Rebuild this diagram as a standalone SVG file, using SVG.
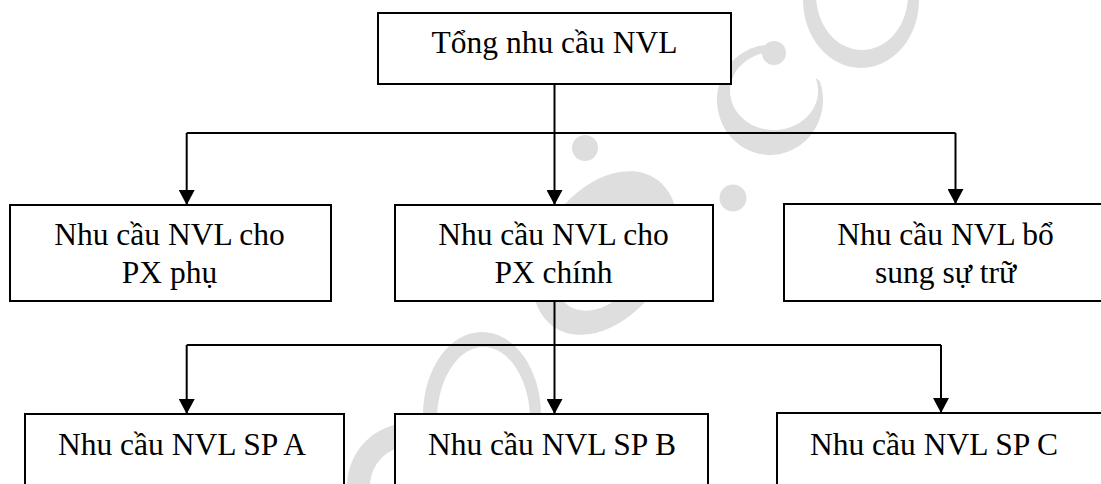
<svg xmlns="http://www.w3.org/2000/svg" width="1101" height="484" viewBox="0 0 1101 484">
  <style>
    .box { fill: #ffffff; stroke: #000000; stroke-width: 2; }
    .lbl { font-family: "Liberation Serif", "DejaVu Serif", serif; font-size: 31.5px; fill: #000000; }
    .mid { text-anchor: middle; }
    .wire { fill: none; stroke: #000000; stroke-width: 2; }
    .wm { fill: #dedede; fill-rule: evenodd; }
  </style>
  <defs>
    <marker id="arrow" viewBox="0 0 15 16" markerWidth="15" markerHeight="16" refX="15" refY="8" orient="auto" markerUnits="userSpaceOnUse">
      <path d="M0,0 L15,8 L0,16 Z" fill="#000000"/>
    </marker>
  </defs>

  <rect width="1101" height="484" fill="#ffffff"/>

  <!-- faint background mark, partly hidden behind the boxes -->
  <g id="watermark">
    <path class="wm" d="M819.8,81.2 A53,55 0 1 1 779.2,45.8 L781.6,52.6 A44,39 0 1 0 815.4,77.7 Z"/>
    <circle class="wm" cx="774" cy="53" r="12"/>
    <path class="wm" d="M803,0 A58,68 0 0 0 919,0 A58,68 0 0 0 803,0 Z M816,-5 A46,55 0 0 0 908,-5 A46,55 0 0 0 816,-5 Z"/>
    <circle class="wm" cx="733" cy="198" r="13.5"/>
    <circle class="wm" cx="585" cy="148" r="13"/>
    <g transform="rotate(35 605 253)">
      <path class="wm" d="M543,253 A62,90 0 0 0 667,253 A62,90 0 0 0 543,253 Z M565,259 A40,58 0 0 0 645,259 A40,58 0 0 0 565,259 Z"/>
    </g>
    <path class="wm" d="M423,415 A59,83 0 0 0 541,415 A59,83 0 0 0 423,415 Z M437,420 A46.5,73 0 0 0 530,420 A46.5,73 0 0 0 437,420 Z"/>
    <path class="wm" d="M347,486 A63,63 0 0 0 473,486 A63,63 0 0 0 347,486 Z M370,486 A40,40 0 0 0 450,486 A40,40 0 0 0 370,486 Z"/>
  </g>

  <!-- connectors -->
  <g id="connectors">
    <path class="wire" d="M186.7,133 H955.5"/>
    <path class="wire" d="M554.5,84 V205" marker-end="url(#arrow)"/>
    <path class="wire" d="M186.7,133 V205" marker-end="url(#arrow)"/>
    <path class="wire" d="M955.5,133 V204" marker-end="url(#arrow)"/>
    <path class="wire" d="M186.7,345 H941"/>
    <path class="wire" d="M554.5,301 V414" marker-end="url(#arrow)"/>
    <path class="wire" d="M186.7,345 V414" marker-end="url(#arrow)"/>
    <path class="wire" d="M941,345 V413" marker-end="url(#arrow)"/>
  </g>

  <!-- top level -->
  <g id="node-total">
    <rect class="box" x="378" y="13" width="353" height="71"/>
    <text class="lbl mid" x="554.5" y="53" font-family="Liberation Serif, DejaVu Serif, serif">Tổng nhu cầu NVL</text>
  </g>

  <!-- second level -->
  <g id="node-px-phu">
    <rect class="box" x="10" y="205" width="321" height="96"/>
    <text class="lbl mid" x="169.5" y="244.5" font-family="Liberation Serif, DejaVu Serif, serif">Nhu cầu NVL cho</text>
    <text class="lbl mid" x="169.5" y="283" font-family="Liberation Serif, DejaVu Serif, serif">PX phụ</text>
  </g>
  <g id="node-px-chinh">
    <rect class="box" x="395" y="205" width="318" height="96"/>
    <text class="lbl mid" x="553.5" y="244.5" font-family="Liberation Serif, DejaVu Serif, serif">Nhu cầu NVL cho</text>
    <text class="lbl mid" x="553.5" y="283" font-family="Liberation Serif, DejaVu Serif, serif">PX chính</text>
  </g>
  <g id="node-du-tru">
    <rect class="box" x="784" y="204" width="330" height="97"/>
    <text class="lbl mid" x="945.5" y="244.5" font-family="Liberation Serif, DejaVu Serif, serif">Nhu cầu NVL bổ</text>
    <text class="lbl mid" x="945.5" y="283" font-family="Liberation Serif, DejaVu Serif, serif">sung sự trữ</text>
  </g>

  <!-- third level -->
  <g id="node-sp-a">
    <rect class="box" x="25" y="414" width="319" height="90"/>
    <text class="lbl" x="58" y="455" font-family="Liberation Serif, DejaVu Serif, serif">Nhu cầu NVL SP A</text>
  </g>
  <g id="node-sp-b">
    <rect class="box" x="395" y="414" width="313" height="90"/>
    <text class="lbl" x="428" y="455" font-family="Liberation Serif, DejaVu Serif, serif">Nhu cầu NVL SP B</text>
  </g>
  <g id="node-sp-c">
    <rect class="box" x="777" y="413" width="340" height="91"/>
    <text class="lbl" x="810" y="455" font-family="Liberation Serif, DejaVu Serif, serif">Nhu cầu NVL SP C</text>
  </g>
</svg>
